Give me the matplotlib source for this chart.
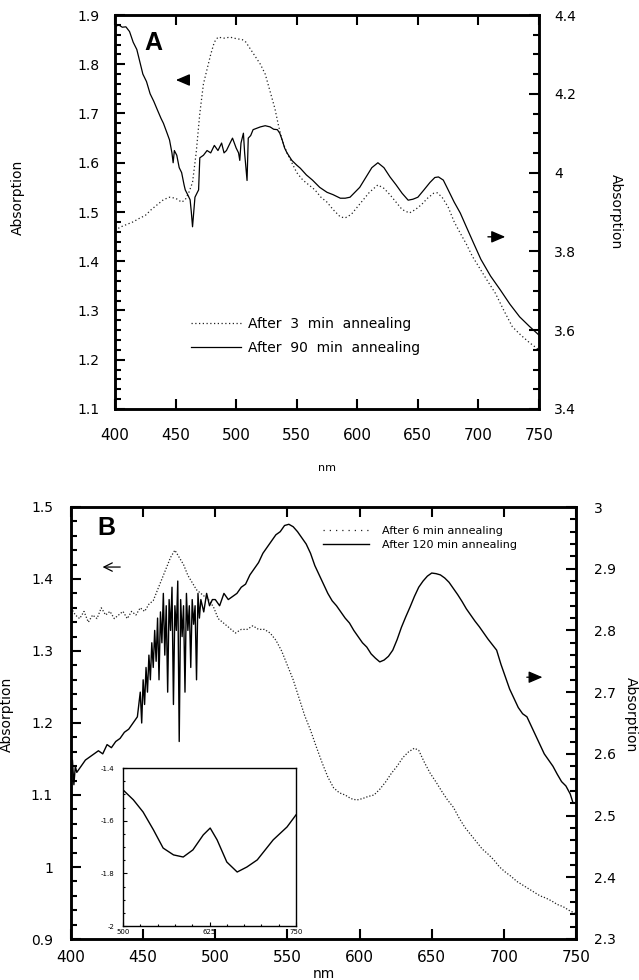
import matplotlib
matplotlib.use("Agg")
import matplotlib.pyplot as plt
from matplotlib.ticker import MultipleLocator, FormatStrFormatter

plt.rcParams['font.family'] = ['DejaVu Sans']
plt.rcParams['axes.unicode_minus'] = False

# ---- panel A : 3 min annealing (left axis) ----
nm_a3 = [400, 405, 410, 415, 420, 425, 430, 435, 440, 445, 450, 455, 458, 461, 464,
         467, 470, 473, 476, 479, 482, 485, 490, 495, 500, 505, 508, 512, 516, 520,
         524, 528, 532, 535, 538, 542, 546, 550, 555, 560, 565, 570, 575, 580, 586,
         590, 595, 600, 605, 610, 617, 622, 627, 632, 637, 643, 648, 653, 658, 663,
         666, 670, 675, 680, 685, 690, 695, 700, 707, 714, 721, 728, 735, 742, 750]
abs_a3 = [1.463, 1.47, 1.475, 1.48, 1.487, 1.493, 1.505, 1.515, 1.525, 1.53, 1.528, 1.52,
          1.525, 1.54, 1.56, 1.62, 1.70, 1.76, 1.79, 1.82, 1.845, 1.855, 1.853, 1.855,
          1.852, 1.85, 1.845, 1.83, 1.815, 1.80, 1.78, 1.745, 1.71, 1.675, 1.645, 1.62,
          1.60, 1.58, 1.565, 1.555, 1.545, 1.53, 1.52, 1.505, 1.49, 1.488, 1.495, 1.51,
          1.525, 1.54, 1.555, 1.548, 1.535, 1.52, 1.505, 1.498, 1.505, 1.515, 1.528,
          1.538, 1.539, 1.53, 1.51, 1.48, 1.457, 1.435, 1.41, 1.39, 1.362, 1.335, 1.30,
          1.267, 1.25, 1.235, 1.22]

# ---- panel A : 90 min annealing (right axis) ----
nm_a90 = [400, 403, 406, 409, 412, 415, 418, 421, 423, 426, 429, 432, 435, 438, 440,
          443, 445, 447, 448, 449, 451, 453, 455, 457, 458, 460, 462, 463, 464, 465,
          466, 468, 469, 470, 473, 476, 479, 482, 485, 488, 490, 492, 495, 497, 500,
          502, 503, 504, 506, 507, 509, 510, 512, 514, 517, 520, 524, 528, 531, 534,
          536, 538, 540, 542, 546, 550, 553, 558, 563, 569, 575, 580, 586, 590, 594,
          598, 602, 607, 612, 617, 622, 627, 632, 637, 642, 646, 650, 655, 660, 664,
          667, 671, 674, 680, 685, 690, 696, 702, 710, 718, 726, 734, 742, 750]
abs_a90 = [4.370, 4.375, 4.369, 4.37, 4.358, 4.331, 4.3125, 4.275, 4.25, 4.231, 4.20,
           4.181, 4.159, 4.1375, 4.125, 4.10, 4.083, 4.05, 4.025, 4.056, 4.044, 4.0125,
           4.0, 3.969, 3.956, 3.944, 3.931, 3.90, 3.8625, 3.90, 3.9375, 3.95, 3.956,
           4.0375, 4.044, 4.056, 4.05, 4.069, 4.056, 4.075, 4.05, 4.056, 4.075, 4.0875,
           4.0625, 4.05, 4.031, 4.075, 4.10, 4.05, 3.98, 4.0875, 4.094, 4.109, 4.1125,
           4.116, 4.119, 4.116, 4.11, 4.109, 4.10, 4.083, 4.0625, 4.05, 4.031, 4.019,
           4.011, 3.994, 3.981, 3.9625, 3.95, 3.944, 3.935, 3.935, 3.9375, 3.95, 3.9625,
           3.9875, 4.0125, 4.025, 4.0125, 3.989, 3.969, 3.9475, 3.93, 3.9325, 3.9375,
           3.956, 3.975, 3.9875, 3.989, 3.981, 3.9625, 3.925, 3.8975, 3.8625, 3.821,
           3.78, 3.7375, 3.7025, 3.666, 3.634, 3.61, 3.5875]

# ---- panel B : 6 min annealing (left axis) ----
nm_b6 = [400, 403, 406, 409, 412, 415, 418, 421, 424, 427, 430, 433, 436, 439, 442,
         445, 448, 451, 454, 457, 460, 463, 466, 469, 472, 475, 478, 481, 484, 487,
         490, 493, 496, 499, 502, 505, 508, 511, 514, 518, 522, 526, 530, 534, 538,
         542, 546, 550, 554, 558, 562, 566, 570, 574, 578, 582, 586, 590, 594, 598,
         602, 606, 610, 614, 618, 622, 626, 630, 634, 638, 641, 645, 649, 653, 657,
         661, 665, 669, 673, 677, 681, 685, 689, 693, 697, 701, 705, 709, 713, 717,
         721, 725, 729, 733, 737, 741, 745, 750]
abs_b6 = [1.36, 1.35, 1.345, 1.355, 1.34, 1.35, 1.345, 1.36, 1.35, 1.355, 1.345, 1.35,
          1.355, 1.345, 1.355, 1.35, 1.36, 1.355, 1.365, 1.37, 1.385, 1.40, 1.415, 1.43,
          1.44, 1.43, 1.42, 1.405, 1.395, 1.385, 1.38, 1.375, 1.37, 1.36, 1.345, 1.34,
          1.335, 1.33, 1.325, 1.33, 1.33, 1.335, 1.33, 1.33, 1.325, 1.315, 1.30, 1.28,
          1.26, 1.235, 1.21, 1.19, 1.167, 1.145, 1.125, 1.11, 1.103, 1.10, 1.095, 1.093,
          1.095, 1.098, 1.10, 1.108, 1.118, 1.13, 1.14, 1.152, 1.16, 1.165, 1.162, 1.145,
          1.13, 1.118, 1.105, 1.093, 1.083, 1.068, 1.055, 1.045, 1.035, 1.025, 1.018,
          1.01, 1.0, 0.993, 0.987, 0.98, 0.975, 0.97, 0.965, 0.96, 0.957, 0.953, 0.948,
          0.945, 0.94, 0.935]

# ---- panel B : 120 min annealing (right axis) ----
nm_b120 = [400, 401, 402, 403, 404, 410, 413, 416, 419, 422, 425, 428, 431, 434, 437,
           440, 443, 446, 448, 449, 450, 451, 452, 453, 454, 455, 456, 457, 458, 459,
           460, 461, 462, 463, 464, 465, 466, 467, 468, 469, 470, 471, 472, 473, 474,
           475, 476, 477, 478, 479, 480, 481, 482, 483, 484, 485, 486, 487, 488, 489,
           490, 492, 494, 496, 498, 500, 503, 506, 509, 512, 515, 518, 521, 524, 527,
           530, 533, 536, 539, 542, 545, 548, 551, 554, 557, 560, 563, 566, 569, 572,
           575, 578, 581, 584, 587, 590, 593, 596, 599, 602, 605, 608, 611, 614, 617,
           620, 623, 626, 629, 632, 635, 638, 641, 644, 647, 650, 653, 656, 659, 662,
           665, 668, 671, 674, 677, 680, 683, 686, 689, 692, 695, 698, 701, 704, 707,
           710, 713, 716, 719, 722, 725, 728, 731, 734, 737, 740, 743, 746, 748, 750]
abs_b120 = [2.56, 2.59, 2.55, 2.58, 2.57, 2.59, 2.595, 2.60, 2.605, 2.60, 2.615, 2.61,
            2.62, 2.625, 2.635, 2.64, 2.65, 2.66, 2.70, 2.65, 2.72, 2.68, 2.74, 2.70,
            2.76, 2.72, 2.78, 2.74, 2.80, 2.75, 2.82, 2.72, 2.83, 2.78, 2.86, 2.76, 2.84,
            2.70, 2.85, 2.80, 2.87, 2.68, 2.84, 2.80, 2.88, 2.62, 2.85, 2.79, 2.84, 2.70,
            2.86, 2.80, 2.84, 2.74, 2.85, 2.81, 2.84, 2.72, 2.86, 2.82, 2.85, 2.83, 2.86,
            2.84, 2.85, 2.85, 2.84, 2.86, 2.85, 2.855, 2.86, 2.87, 2.875, 2.89, 2.90,
            2.91, 2.925, 2.935, 2.945, 2.955, 2.96, 2.97, 2.972, 2.968, 2.96, 2.95, 2.94,
            2.925, 2.905, 2.89, 2.875, 2.86, 2.848, 2.84, 2.83, 2.82, 2.812, 2.80, 2.79,
            2.78, 2.773, 2.762, 2.755, 2.749, 2.752, 2.758, 2.768, 2.785, 2.805, 2.822,
            2.838, 2.855, 2.87, 2.88, 2.888, 2.893, 2.892, 2.89, 2.885, 2.878, 2.868,
            2.858, 2.847, 2.835, 2.825, 2.815, 2.806, 2.796, 2.786, 2.777, 2.768, 2.745,
            2.725, 2.705, 2.69, 2.675, 2.665, 2.66, 2.645, 2.63, 2.615, 2.60, 2.59, 2.58,
            2.567, 2.555, 2.548, 2.535, 2.52, 2.52]

# ---- inset : difference spectrum ----
nm_ins = [500, 515, 529, 544, 558, 573, 587, 601, 616, 626, 636, 650, 665, 679, 694,
          717, 737, 750]
abs_ins = [-1.483, -1.521, -1.567, -1.635, -1.704, -1.73, -1.738, -1.711, -1.654,
           -1.628, -1.673, -1.757, -1.795, -1.776, -1.749, -1.673, -1.624, -1.578]


def style(ax, major=7, minor=4):
    ax.tick_params(which='both', direction='in', width=1.5, labelsize=10)
    ax.tick_params(which='major', length=major)
    ax.tick_params(which='minor', length=minor)
    for s in ax.spines.values():
        s.set_linewidth(1.8)


W, H = 639, 980
fig = plt.figure(figsize=(W / 100, H / 100), dpi=100)

# ================= panel A =================
axA = fig.add_axes([115 / W, 1 - 409 / H, 424 / W, 394 / H])
axA2 = axA.twinx()
l3, = axA.plot(nm_a3, abs_a3, color='#222222', lw=0.9, linestyle=(0, (1, 2)),
               label='After  3  min  annealing')
l90, = axA2.plot(nm_a90, abs_a90, color='black', lw=0.9,
                 label='After  90  min  annealing')
axA.set_xlim(400, 750)
axA.set_ylim(1.1, 1.9)
axA2.set_ylim(3.4, 4.4)
axA.xaxis.set_major_locator(MultipleLocator(50))
axA.yaxis.set_major_locator(MultipleLocator(0.1))
axA.yaxis.set_minor_locator(MultipleLocator(0.02))
axA2.yaxis.set_major_locator(MultipleLocator(0.2))
axA2.yaxis.set_minor_locator(MultipleLocator(0.05))
axA2.yaxis.set_major_formatter(FormatStrFormatter('%g'))
style(axA)
style(axA2)
axA.tick_params(axis='x', top=True, pad=14, labelsize=11)
axA.tick_params(axis='y', pad=11)
axA2.tick_params(axis='y', pad=11)
axA.set_xlabel('nm', fontsize=8, labelpad=14)
axA.set_ylabel('Absorption', fontsize=10)
axA.yaxis.set_label_coords(-0.212, 0.538)
axA2.set_ylabel('Absorption', fontsize=10, rotation=270)
axA2.yaxis.set_label_coords(1.198, 0.5)
axA2.legend(handles=[l3, l90], loc='center left', bbox_to_anchor=(0.18, 0.185),
            frameon=False, fontsize=10, handlelength=3.6, handletextpad=0.45,
            labelspacing=0.7, borderpad=0, borderaxespad=0)
axA.text(0.09, 0.93, 'A', transform=axA.transAxes, fontsize=18, fontweight='bold',
         ha='center', va='center', family='Liberation Sans')
axA.annotate('', xy=(0.137, 0.835), xytext=(0.177, 0.835), xycoords='axes fraction',
             arrowprops=dict(arrowstyle='-|>,head_length=0.7,head_width=0.3',
                             color='black', lw=1.0, mutation_scale=12))
axA.annotate('', xy=(0.927, 0.437), xytext=(0.873, 0.437), xycoords='axes fraction',
             arrowprops=dict(arrowstyle='-|>,head_length=0.7,head_width=0.3',
                             color='black', lw=1.0, mutation_scale=12))

# ================= panel B =================
axB = fig.add_axes([71 / W, 1 - 939 / H, 505 / W, 432 / H])
axB2 = axB.twinx()
l6, = axB.plot(nm_b6, abs_b6, color='#222222', lw=0.9, linestyle=(0, (1, 1.5)),
               label='After 6 min annealing')
l120, = axB2.plot(nm_b120, abs_b120, color='black', lw=1.0,
                  label='After 120 min annealing')
axB.set_xlim(400, 750)
axB.set_ylim(0.9, 1.5)
axB2.set_ylim(2.3, 3.0)
axB.xaxis.set_major_locator(MultipleLocator(50))
axB.yaxis.set_major_locator(MultipleLocator(0.1))
axB.yaxis.set_minor_locator(MultipleLocator(0.02))
axB2.yaxis.set_major_locator(MultipleLocator(0.1))
axB2.yaxis.set_minor_locator(MultipleLocator(0.02))
axB.yaxis.set_major_formatter(FormatStrFormatter('%g'))
axB2.yaxis.set_major_formatter(FormatStrFormatter('%g'))
style(axB)
style(axB2)
axB.tick_params(axis='x', top=True, pad=8, labelsize=11)
axB.tick_params(axis='y', pad=13)
axB2.tick_params(axis='y', pad=13)
axB.set_xlabel('nm', fontsize=10, labelpad=1)
axB.set_ylabel('Absorption', fontsize=10)
axB.yaxis.set_label_coords(-0.113, 0.52)
axB2.set_ylabel('Absorption', fontsize=10, rotation=270)
axB2.yaxis.set_label_coords(1.123, 0.52)
leg = axB2.legend(handles=[l6, l120], loc='center left', bbox_to_anchor=(0.499, 0.929),
                  frameon=False, fontsize=8, handlelength=4.1, handletextpad=1.2,
                  labelspacing=0.35, borderpad=0, borderaxespad=0)
leg.legend_handles[0].set_linestyle((0, (1, 4)))
axB.text(0.071, 0.951, 'B', transform=axB.transAxes, fontsize=18, fontweight='bold',
         ha='center', va='center', family='Liberation Sans')
axB.annotate('', xy=(0.057, 0.861), xytext=(0.103, 0.861), xycoords='axes fraction',
             arrowprops=dict(arrowstyle='->,head_length=0.5,head_width=0.25',
                             color='black', lw=0.9, mutation_scale=12))
axB.annotate('', xy=(0.939, 0.606), xytext=(0.897, 0.606), xycoords='axes fraction',
             arrowprops=dict(arrowstyle='-|>,head_length=0.7,head_width=0.3',
                             color='black', lw=0.9, mutation_scale=12))

# ================= inset =================
ins = fig.add_axes([123 / W, 1 - 926 / H, 173 / W, 158 / H])
ins.set_zorder(5)
ins.plot(nm_ins, abs_ins, color='black', lw=1.0)
ins.set_xlim(500, 750)
ins.set_ylim(-2, -1.4)
ins.set_xticks([500, 625, 750])
ins.xaxis.set_minor_locator(MultipleLocator(25))
ins.yaxis.set_major_locator(MultipleLocator(0.2))
ins.yaxis.set_minor_locator(MultipleLocator(0.05))
ins.yaxis.set_major_formatter(FormatStrFormatter('%g'))
ins.tick_params(which='both', direction='in', width=0.8, labelsize=5, pad=2)
ins.tick_params(which='major', length=3)
ins.tick_params(which='minor', length=1.5)
ins.tick_params(axis='y', pad=6)
for s in ins.spines.values():
    s.set_linewidth(1.0)

fig.savefig('out.png', dpi=100)
